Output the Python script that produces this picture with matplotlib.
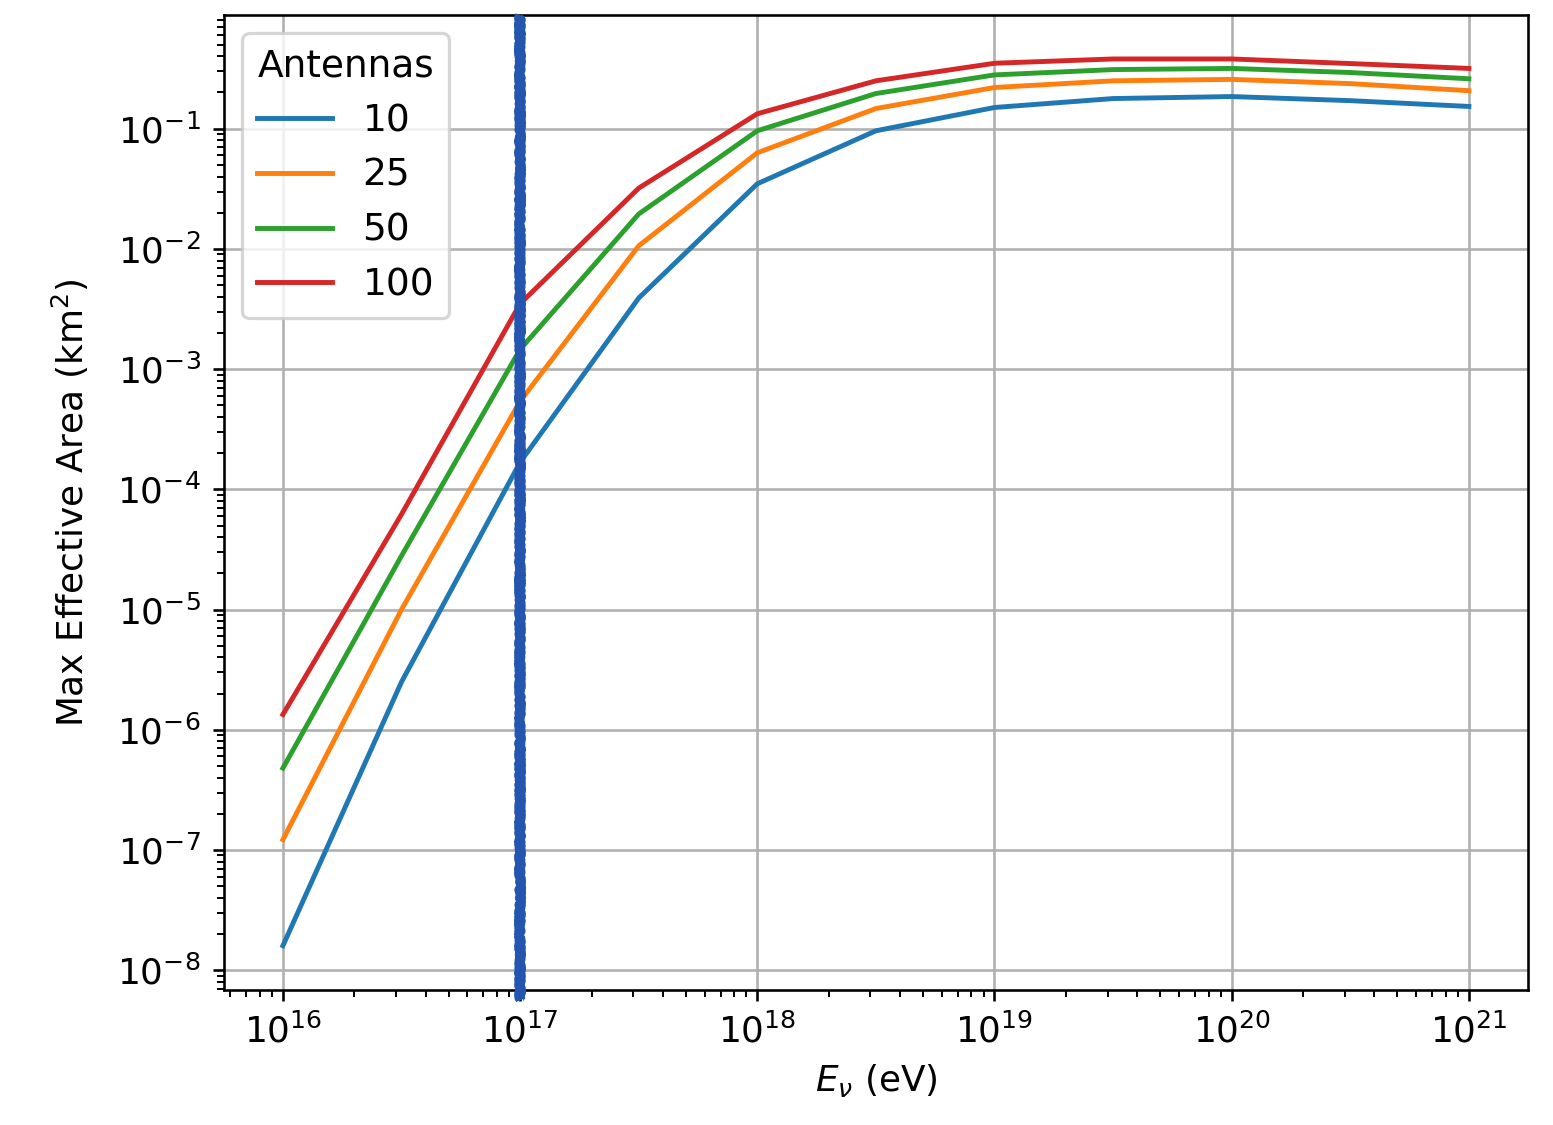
import numpy as np
import matplotlib
matplotlib.use('Agg')
import matplotlib.pyplot as plt
from matplotlib.ticker import LogLocator, NullFormatter

# energies (eV), half decade steps
energies = [1e16, 10**16.5, 1e17, 10**17.5, 1e18, 10**18.5, 1e19, 10**19.5, 1e20, 10**20.5, 1e21]

antennas = [10, 25, 50, 100]

# max effective area (km^2)
area_10 = [1.6e-8, 2.5e-6, 1.68e-4, 3.9e-3, 0.0348, 0.096, 0.150, 0.178, 0.185, 0.171, 0.153]
area_25 = [1.22e-7, 1.0e-5, 5.4e-4, 0.0106, 0.063, 0.147, 0.220, 0.250, 0.257, 0.237, 0.207]
area_50 = [4.8e-7, 2.8e-5, 1.46e-3, 0.0195, 0.096, 0.196, 0.280, 0.310, 0.317, 0.293, 0.260]
area_100 = [1.34e-6, 6.2e-5, 3.5e-3, 0.032, 0.133, 0.250, 0.350, 0.380, 0.380, 0.348, 0.317]

marked_energy = 1e17

plt.rcParams['font.size'] = 11

dpi = 235
fig = plt.figure(figsize=(1553 / dpi, 1125 / dpi), dpi=dpi)
ax = fig.add_subplot(111)
fig.subplots_adjust(left=0.144, right=0.984, top=0.987, bottom=0.12)

for n, area in zip(antennas, [area_10, area_25, area_50, area_100]):
    ax.plot(energies, area, label=str(n))

ax.set_xscale('log')
ax.set_yscale('log')
ax.yaxis.set_major_locator(LogLocator(base=10, numticks=15))
ax.yaxis.set_minor_locator(LogLocator(base=10, subs=np.arange(2, 10), numticks=15))
ax.yaxis.set_minor_formatter(NullFormatter())
ax.grid(True)
ax.set_xlabel(r'$E_\nu$ (eV)')
ax.set_ylabel(r'Max Effective Area (km$^2$)', labelpad=8)
leg = ax.legend(title='Antennas', loc='upper left', fontsize=11.5, title_fontsize=11.5)

# hand drawn marker at 1e17
mark, = ax.plot([marked_energy, marked_energy], [1.0, -0.01],
                transform=ax.get_xaxis_transform(), color='#2456b0', lw=3.0,
                clip_on=False, zorder=5, solid_capstyle='butt')
mark.set_sketch_params(scale=1.0, length=3, randomness=6)

fig.savefig('out.png', dpi=dpi)
